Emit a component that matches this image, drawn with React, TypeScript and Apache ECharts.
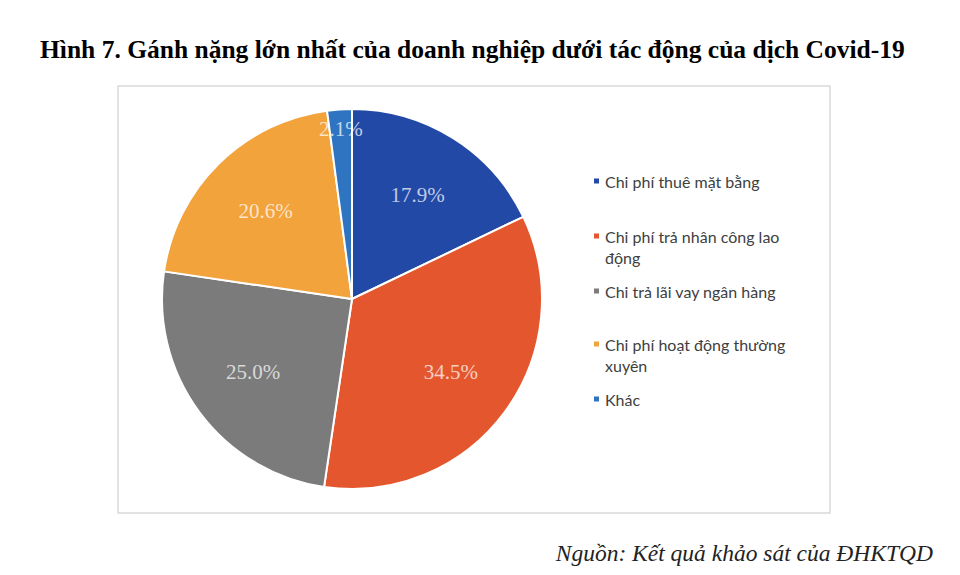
import React, { useEffect, useRef } from "react";
import * as echarts from "echarts";

const titleText = "Hình 7. Gánh nặng lớn nhất của doanh nghiệp dưới tác động của dịch Covid-19";
const sourceText = "Nguồn: Kết quả khảo sát của ĐHKTQD";
const categories = [
  "Chi phí thuê mặt bằng",
  "Chi phí trả nhân công lao động",
  "Chi trả lãi vay ngân hàng",
  "Chi phí hoạt động thường xuyên",
  "Khác",
];
const legendLines = [
  "Chi phí thuê mặt bằng",
  "Chi phí trả nhân công lao\nđộng",
  "Chi trả lãi vay ngân hàng",
  "Chi phí hoạt động thường\nxuyên",
  "Khác",
];
const values = [17.9, 34.5, 25.0, 20.6, 2.1];
const colors = ["#2249A6", "#E4572E", "#7B7B7B", "#F3A33C", "#2F74C0"];
const legendTops = [181, 236, 291, 344, 399];

export default function App() {
  const ref = useRef<HTMLDivElement>(null);
  useEffect(() => {
    document.body.style.margin = "0";
    const chart = echarts.init(ref.current!, null, { renderer: "svg" });
    const center = [352, 299];
    const R = 190;
    const data = categories.map((name, i) => ({
      name,
      value: values[i],
      itemStyle: { color: colors[i] },
    }));
    const labelStyle = {
      show: true,
      position: "inside",
      fontFamily: "Liberation Serif",
      fontSize: 21,
      color: "rgba(255,255,255,0.72)",
      formatter: (p: any) => p.value.toFixed(1) + "%",
    };
    const overlay = (r0: number, showIdx: number[]) => ({
      type: "pie",
      silent: true,
      center,
      radius: [r0, R],
      startAngle: 90,
      clockwise: true,
      data: categories.map((name, i) => ({
        name: name + "__o" + r0,
        value: values[i],
        itemStyle: { color: "rgba(0,0,0,0)" },
        label: { show: showIdx.includes(i) },
      })),
      label: labelStyle,
      labelLine: { show: false },
      emphasis: { disabled: true },
    });
    const legends = categories.map((name, i) => {
      const multi = legendLines[i].includes("\n");
      return {
        orient: "vertical",
        left: 592,
        top: multi ? legendTops[i] - 31.5 : legendTops[i] - 10.5,
        data: [name],
        icon: "rect",
        itemWidth: 7,
        itemHeight: 7,
        itemGap: 0,
        padding: 0,
        formatter: () => (multi ? "\n" + legendLines[i] : legendLines[i]),
        textStyle: {
          fontFamily: "Lato",
          fontSize: 16,
          color: "#404040",
          lineHeight: 21,
        },
      };
    });
    chart.setOption({
      animation: false,
      backgroundColor: "#ffffff",
      title: {
        text: titleText,
        left: 40,
        top: 36,
        padding: 0,
        textStyle: {
          fontFamily: "Liberation Serif",
          fontWeight: "bold",
          fontSize: 25.5,
          color: "#000000",
        },
      },
      legend: legends,
      graphic: [
        {
          type: "rect",
          shape: { x: 118, y: 86, width: 712, height: 427 },
          style: { fill: "none", stroke: "#D9D9D9", lineWidth: 1.5 },
          z: -1,
        },
        {
          type: "text",
          right: 27,
          top: 541,
          style: {
            text: sourceText,
            font: "italic 23.5px 'Liberation Serif'",
            fill: "#222222",
          },
        },
      ],
      series: [
        {
          type: "pie",
          center,
          radius: [0, R],
          startAngle: 90,
          clockwise: true,
          data,
          label: { show: false },
          labelLine: { show: false },
          itemStyle: { borderColor: "#ffffff", borderWidth: 2 },
          emphasis: { disabled: true },
        },
        overlay(50, [0, 1, 2, 3]),
        overlay(144, [4]),
      ],
    });
    return () => chart.dispose();
  }, []);
  return <div ref={ref} style={{ width: 960, height: 575 }} />;
}
